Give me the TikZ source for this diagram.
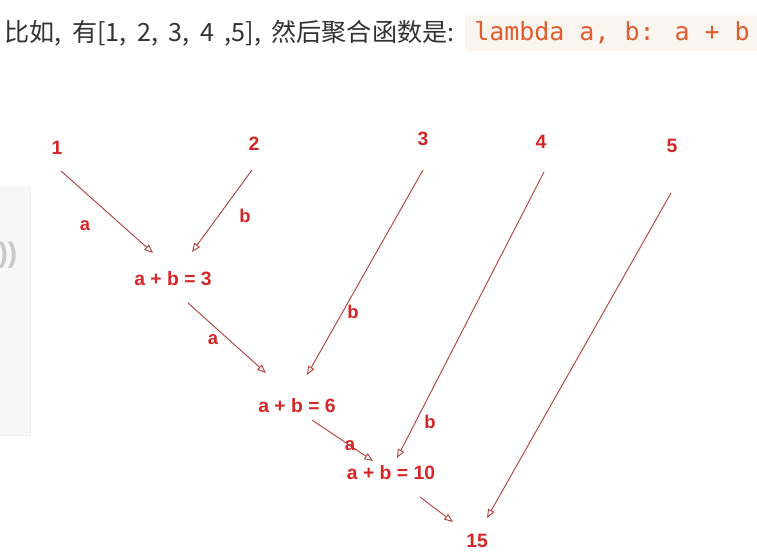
\documentclass[tikz,border=0pt]{standalone}
\usepackage{fontspec}
\setmainfont{Liberation Sans}
\newfontfamily\cjkfont{Noto Sans CJK SC}
\newfontfamily\codefont{DejaVu Sans Mono}
\usepackage{xcolor}
\usetikzlibrary{arrows.meta,calc,positioning}
\definecolor{linkred}{RGB}{178,72,68}
\definecolor{labred}{RGB}{212,38,38}
\definecolor{codeor}{RGB}{226,92,48}
\definecolor{codebg}{RGB}{250,245,238}
\definecolor{headgray}{RGB}{50,50,50}
\newcommand{\opentip}{{Triangle[open,length=5pt,width=4pt]}}
\newcommand{\widesp}{\spaceskip=6pt\relax}

\begin{document}
\begin{tikzpicture}
[x=0.02cm,y=-0.02cm,
 link/.style={draw=linkred,line width=0.55pt,-\opentip},
 val/.style={text=labred,font=\bfseries\fontsize{11}{13}\selectfont,inner sep=1pt},
 arg/.style={text=labred,font=\bfseries\fontsize{10.5}{12}\selectfont,inner sep=1pt}]
\useasboundingbox (0,0) rectangle (757,560);
% side panel and header
\fill[black!3,draw=black!7] (-5,187) rectangle (30,435);
\node[text=black!22,font=\bfseries\fontsize{16}{18}\selectfont] (pan) at (8,255) {))};
\node[anchor=west,text=headgray,font=\cjkfont\fontsize{14.3}{16}\selectfont,inner sep=0pt] (head) at (4,33) {\widesp 比如, 有[1, 2, 3, 4 ,5], 然后聚合函数是:};
\fill[codebg] (465,15) rectangle (757,51);
\node[anchor=west,text=codeor,font=\codefont\fontsize{14.2}{16}\selectfont,inner sep=0pt] (code) at (474,33) {lambda a, b: a + b};
% values
\node[val] (n1) at (57,148) {1};
\node[val] (n2) at (254,144) {2};
\node[val] (n3) at (423,139) {3};
\node[val] (n4) at (541,142) {4};
\node[val] (n5) at (672,146) {5};
\node[val] (r1) at (173,279) {a + b = 3};
\node[val] (r2) at (297,406) {a + b = 6};
\node[val] (r3) at (391,473) {a + b = 10};
\node[val] (r4) at (477,541) {15};
% reduce steps
\draw[link] ([shift={(4,23)}]n1.center) -- ([shift={(-20,-26)}]r1.center);
\draw[link] ([shift={(-2,26)}]n2.center) -- ([shift={(19,-27)}]r1.center);
\draw[link] ([shift={(15,24)}]r1.center) -- ([shift={(-31,-33)}]r2.center);
\draw[link] ([shift={(0,31)}]n3.center) -- ([shift={(10,-31)}]r2.center);
\draw[link] ([shift={(15,14)}]r2.center) -- ([shift={(-18,-12)}]r3.center);
\draw[link] ([shift={(3,30)}]n4.center) -- ([shift={(6,-15)}]r3.center);
\draw[link] ([shift={(29,24)}]r3.center) -- ([shift={(-24,-19)}]r4.center);
\draw[link] ([shift={(-1,47)}]n5.center) -- ([shift={(10,-23)}]r4.center);
% argument names
\node[arg] (a1) at (85,226) {a};
\node[arg] (b1) at (245,216) {b};
\node[arg] (a2) at (213,340) {a};
\node[arg] (b2) at (353,312) {b};
\node[arg] (a3) at (350,446) {a};
\node[arg] (b3) at (430,422) {b};
\end{tikzpicture}
\end{document}
